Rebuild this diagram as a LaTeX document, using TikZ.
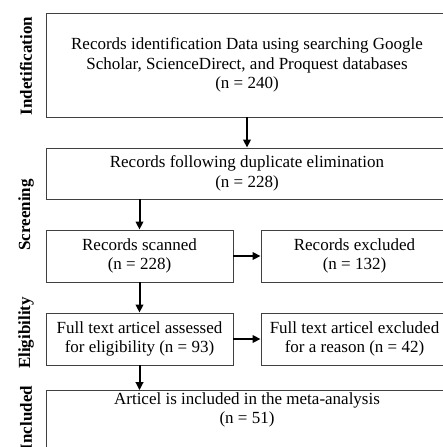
\documentclass[tikz,border=0pt]{standalone}
\usepackage{fontspec}
\setmainfont{Liberation Serif}
\usetikzlibrary{positioning,arrows.meta}

\begin{document}
\begin{tikzpicture}[x=1pt, y=1pt,
                    flow box/.style={rectangle,draw=black!75,line width=0.9pt,align=center,inner sep=2pt,font=\fontsize{17}{19.5}\selectfont},
                    wide box/.style={flow box,minimum width=402pt},
                    half box/.style={flow box,minimum width=187pt,minimum height=52pt},
                    stage label/.style={rotate=90,font=\fontsize{17}{19.5}\selectfont\bfseries},
                    flow arrow/.style={line width=2pt,-{Triangle[length=8pt,width=7.5pt]}}]
    \useasboundingbox (0,0) rectangle (443,-447);
    \clip (0,0) rectangle (443,-447);

    \node[wide box, minimum height=104pt] (id) at (247,-65)
        {Records identification Data using searching Google\\Scholar, ScienceDirect, and Proquest databases\\(n = 240)};
    \node[wide box, minimum height=51pt] (dup) at (247,-173.5)
        {Records following duplicate elimination\\(n = 228)};
    \node[half box] (scan) at (139.5,-256)
        {Records scanned\\(n = 228)};
    \node[half box] (excl) at (354.5,-256)
        {Records excluded\\(n = 132)};
    \node[half box] (full) at (139.5,-339)
        {Full text articel assessed\\for eligibility (n = 93)};
    \node[half box] (fexcl) at (354.5,-339)
        {Full text articel excluded\\for a reason (n = 42)};
    \node[wide box, minimum height=80pt] (incl) at (247,-437)
        {Articel is included in the meta-analysis\\(n = 51)\\[38pt]};

    \node[stage label] (lid) at (26,-66) {Indetification};
    \node[stage label] (lscr) at (26,-215) {Screening};
    \node[stage label] (lel) at (26,-333) {Eligibility};
    \node[stage label] (linc) at (26,-418) {Included};

    \draw[flow arrow] (id) -- (dup);
    \draw[flow arrow] (scan.north |- dup.south) -- (scan);
    \draw[flow arrow] (scan) -- (excl);
    \draw[flow arrow] (scan) -- (full);
    \draw[flow arrow] (full) -- (fexcl);
    \draw[flow arrow] (full) -- (incl.north -| full);
\end{tikzpicture}
\end{document}
